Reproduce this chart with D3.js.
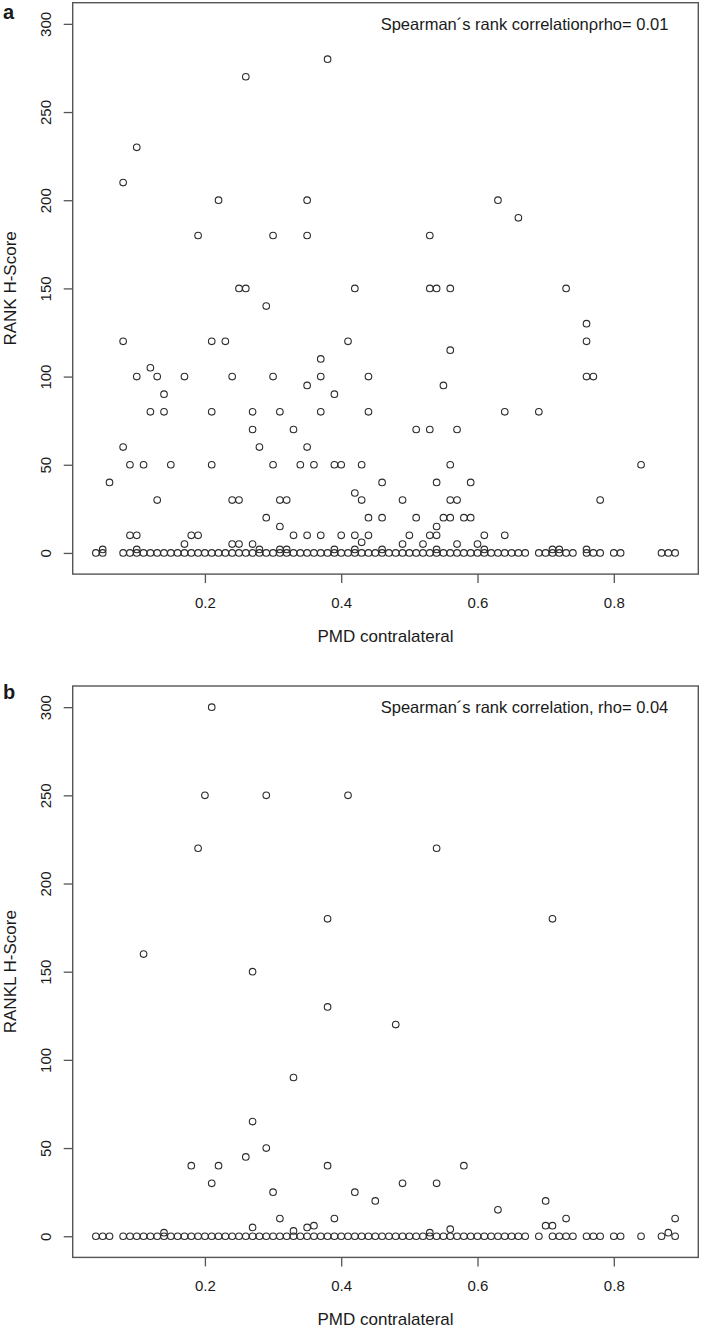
<!DOCTYPE html>
<html>
<head>
<meta charset="utf-8">
<script src="https://cdn.jsdelivr.net/npm/d3@7"></script>
<style>
  html, body { margin: 0; padding: 0; background: #fff; }
  svg { display: block; }
  text { font-family: "Liberation Sans", Arial, Helvetica, sans-serif; fill: #1a1a1a; }
</style>
</head>
<body>
<svg id="chart" width="701" height="1329"></svg>
<script>
// ---------------- DATA ----------------
const xTicks = [0.2, 0.4, 0.6, 0.8];
const yTicks = [0, 50, 100, 150, 200, 250, 300];
const xTitle = "PMD contralateral";

// Panel a: RANK H-Score
const aLabel = "a";
const aYTitle = "RANK H-Score";
const aNote = "Spearman\u00B4s rank correlation\u03C1rho= 0.01";
const aZeroX = [0.04, 0.05, 0.08, 0.09, 0.10, 0.11, 0.12, 0.13, 0.14, 0.15, 0.16, 0.17, 0.18, 0.19,
  0.20, 0.21, 0.22, 0.23, 0.24, 0.25, 0.26, 0.27, 0.28, 0.29, 0.30, 0.31, 0.32, 0.33, 0.34, 0.35,
  0.36, 0.37, 0.38, 0.39, 0.40, 0.41, 0.42, 0.43, 0.44, 0.45, 0.46, 0.47, 0.48, 0.49, 0.50, 0.51,
  0.52, 0.53, 0.54, 0.55, 0.56, 0.57, 0.58, 0.59, 0.60, 0.61, 0.62, 0.63, 0.64, 0.65, 0.66, 0.67,
  0.69, 0.70, 0.71, 0.72, 0.73, 0.74, 0.76, 0.77, 0.78, 0.80, 0.81, 0.87, 0.88, 0.89];
const aX = [0.08, 0.10, 0.26, 0.38, 0.22, 0.19, 0.30, 0.35, 0.35, 0.25, 0.26,
  0.63, 0.66, 0.53, 0.42, 0.53, 0.54, 0.56, 0.73, 0.29,
  0.08, 0.21, 0.23, 0.41, 0.12, 0.10, 0.13, 0.17, 0.24, 0.30, 0.37, 0.37, 0.35, 0.14, 0.39,
  0.12, 0.14, 0.21, 0.27, 0.31, 0.37, 0.27, 0.33, 0.08, 0.28, 0.35,
  0.09, 0.11, 0.15, 0.21, 0.30, 0.34, 0.36, 0.39, 0.40, 0.06, 0.13, 0.24, 0.25, 0.31, 0.32, 0.29, 0.31,
  0.09, 0.10, 0.18, 0.19, 0.33, 0.35, 0.37, 0.40, 0.17, 0.24, 0.25, 0.27,
  0.05, 0.10, 0.28, 0.31, 0.32, 0.39,
  0.76, 0.76, 0.76, 0.77, 0.56, 0.44, 0.55, 0.44, 0.64, 0.69, 0.51, 0.53, 0.57, 0.43, 0.56, 0.84,
  0.46, 0.54, 0.59, 0.42, 0.43, 0.49, 0.56, 0.57, 0.78, 0.44, 0.46, 0.51, 0.55, 0.56, 0.58, 0.59,
  0.54, 0.42, 0.44, 0.50, 0.53, 0.54, 0.61, 0.64, 0.43, 0.49, 0.52, 0.57, 0.60,
  0.42, 0.46, 0.54, 0.61, 0.71, 0.72, 0.76];
const aY = [210, 230, 270, 280, 200, 180, 180, 200, 180, 150, 150,
  200, 190, 180, 150, 150, 150, 150, 150, 140,
  120, 120, 120, 120, 105, 100, 100, 100, 100, 100, 100, 110, 95, 90, 90,
  80, 80, 80, 80, 80, 80, 70, 70, 60, 60, 60,
  50, 50, 50, 50, 50, 50, 50, 50, 50, 40, 30, 30, 30, 30, 30, 20, 15,
  10, 10, 10, 10, 10, 10, 10, 10, 5, 5, 5, 5,
  2, 2, 2, 2, 2, 2,
  130, 120, 100, 100, 115, 100, 95, 80, 80, 80, 70, 70, 70, 50, 50, 50,
  40, 40, 40, 34, 30, 30, 30, 30, 30, 20, 20, 20, 20, 20, 20, 20,
  15, 10, 10, 10, 10, 10, 10, 10, 6, 5, 5, 5, 5,
  2, 2, 2, 2, 2, 2, 2];

// Panel b: RANKL H-Score
const bLabel = "b";
const bYTitle = "RANKL H-Score";
const bNote = "Spearman\u00B4s rank correlation, rho= 0.04";
const bZeroX = [0.04, 0.05, 0.06, 0.08, 0.09, 0.10, 0.11, 0.12, 0.13, 0.14, 0.15, 0.16, 0.17, 0.18,
  0.19, 0.20, 0.21, 0.22, 0.23, 0.24, 0.25, 0.26, 0.27, 0.28, 0.29, 0.30, 0.31, 0.32, 0.33, 0.34,
  0.35, 0.36, 0.37, 0.38, 0.39, 0.40, 0.41, 0.42, 0.43, 0.44, 0.45, 0.46, 0.47, 0.48, 0.49, 0.50,
  0.51, 0.52, 0.53, 0.54, 0.55, 0.56, 0.57, 0.58, 0.59, 0.60, 0.61, 0.62, 0.63, 0.64, 0.65, 0.66,
  0.67, 0.69, 0.71, 0.72, 0.73, 0.74, 0.76, 0.77, 0.78, 0.80, 0.81, 0.84, 0.87, 0.89];
const bX = [0.21, 0.20, 0.29, 0.41, 0.19, 0.54, 0.38, 0.71, 0.11, 0.27, 0.38, 0.48, 0.33,
  0.27, 0.29, 0.26, 0.18, 0.22, 0.38, 0.58, 0.21, 0.49, 0.54, 0.30, 0.42, 0.45, 0.70, 0.63,
  0.31, 0.39, 0.73, 0.89, 0.36, 0.70, 0.71, 0.27, 0.35, 0.56, 0.33, 0.14, 0.53, 0.88];
const bY = [300, 250, 250, 250, 220, 220, 180, 180, 160, 150, 130, 120, 90,
  65, 50, 45, 40, 40, 40, 40, 30, 30, 30, 25, 25, 20, 20, 15,
  10, 10, 10, 10, 6, 6, 6, 5, 5, 4, 3, 2, 2, 2];

// ---------------- DRAWING ----------------
const svg = d3.select("#chart");
svg.append("rect").attr("width", 701).attr("height", 1329).attr("fill", "#fff");

const xDomain = [0.006, 0.924];
const yDomain = [-12, 312];
const boxLeft = 72.7, boxRight = 698.3, boxH = 571.4;

function drawPanel(top, label, yTitle, note, zeroX, px, py) {
  const bottom = top + boxH;
  const x = d3.scaleLinear().domain(xDomain).range([boxLeft, boxRight]);
  const y = d3.scaleLinear().domain(yDomain).range([bottom, top]);
  const g = svg.append("g");

  // points: zero row first, then others
  const pts = zeroX.map(v => ({x: v, y: 0})).concat(px.map((v, i) => ({x: v, y: py[i]})));
  g.append("g").selectAll("circle").data(pts).join("circle")
    .attr("cx", d => x(d.x)).attr("cy", d => y(d.y)).attr("r", 3.3)
    .attr("fill", "none").attr("stroke", "#2b2b2b").attr("stroke-width", 1.1);

  // box
  g.append("rect").attr("x", boxLeft).attr("y", top)
    .attr("width", boxRight - boxLeft).attr("height", boxH)
    .attr("fill", "none").attr("stroke", "#555").attr("stroke-width", 1.4);

  // x axis
  const xa = g.append("g").attr("transform", `translate(0,${bottom})`)
    .call(d3.axisBottom(x).tickValues(xTicks).tickSize(9).tickFormat(d3.format(".1f")));
  xa.select(".domain").remove();
  xa.selectAll(".tick line").attr("stroke", "#555").attr("stroke-width", 1.3);
  xa.selectAll(".tick text").attr("y", 34).attr("dy", 0)
    .style("font-size", "15px").style("font-family", "Liberation Sans, Arial, sans-serif").attr("fill", "#1a1a1a");

  // y axis
  const ya = g.append("g").attr("transform", `translate(${boxLeft},0)`)
    .call(d3.axisLeft(y).tickValues(yTicks).tickSize(9).tickFormat(d3.format("d")));
  ya.select(".domain").remove();
  ya.selectAll(".tick line").attr("stroke", "#555").attr("stroke-width", 1.3);
  ya.selectAll(".tick text").attr("x", 0).attr("y", -(boxLeft - 50.7)).attr("dy", 0)
    .attr("transform", "rotate(-90)").attr("text-anchor", "middle")
    .style("font-size", "15px").style("font-family", "Liberation Sans, Arial, sans-serif").attr("fill", "#1a1a1a");

  // titles
  g.append("text").attr("x", (boxLeft + boxRight) / 2).attr("y", bottom + 68)
    .attr("text-anchor", "middle").style("font-size", "17px").text(xTitle);
  g.append("text").attr("transform", `translate(15.5,${(top + bottom) / 2}) rotate(-90)`)
    .attr("text-anchor", "middle").style("font-size", "17px").text(yTitle);

  // annotation
  g.append("text").attr("x", 524.5).attr("y", top + 27)
    .attr("text-anchor", "middle").style("font-size", "16.5px").text(note);

  // panel label
  g.append("text").attr("x", 3).attr("y", Math.max(top + 12.5, 18.5))
    .style("font-size", "20px").style("font-weight", "bold").attr("fill", "#000").text(label);
}

drawPanel(2.7, aLabel, aYTitle, aNote, aZeroX, aX, aY);
drawPanel(686, bLabel, bYTitle, bNote, bZeroX, bX, bY);
</script>
</body>
</html>
